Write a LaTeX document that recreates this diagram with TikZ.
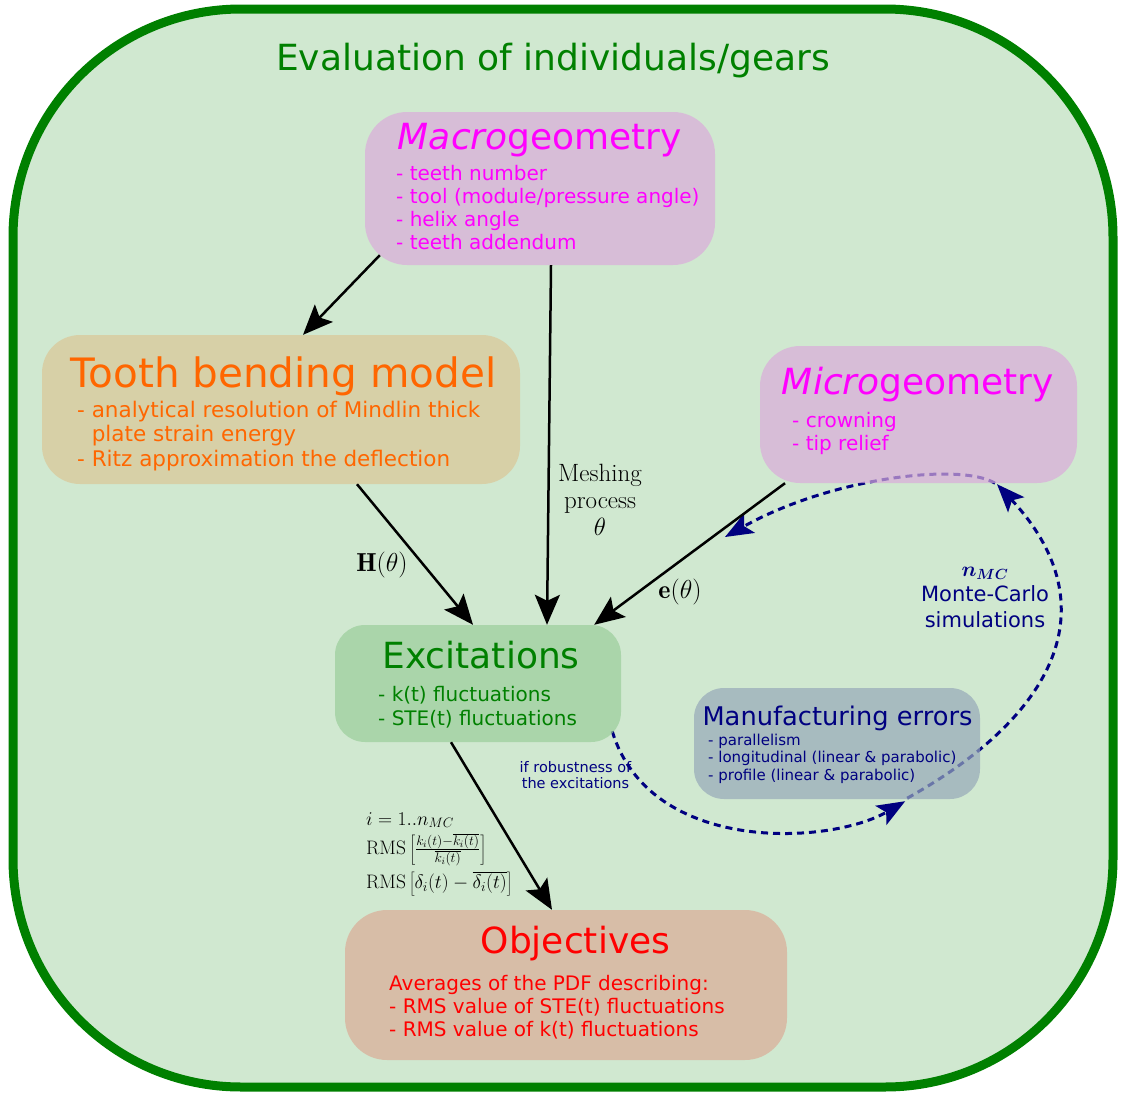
\documentclass[tikz,border=0pt]{standalone}
\usepackage{fix-cm}
\usepackage{fontspec}
\usepackage{bm}
\usetikzlibrary{arrows.meta}
\newfontfamily\dejavu{DejaVu Sans}[ItalicFont={DejaVu Sans Oblique}]
\newcommand{\boxlines}[2][l]{\begin{tabular}[t]{@{}#1@{}}#2\end{tabular}}

\definecolor{framegreen}{RGB}{0,128,0}
\definecolor{bggreen}{RGB}{208,232,208}
\definecolor{macrofill}{RGB}{219,172,219}
\definecolor{toothfill}{RGB}{219,198,151}
\definecolor{excitfill}{RGB}{154,206,154}
\definecolor{manuffill}{RGB}{151,169,185}
\definecolor{objecfill}{RGB}{219,172,151}
\definecolor{navyblue}{RGB}{0,0,128}
\definecolor{toothtext}{RGB}{255,102,0}
\definecolor{geomtext}{RGB}{255,0,255}
\definecolor{objectext}{RGB}{255,0,0}

\pgfdeclarelayer{frame}
\pgfdeclarelayer{under}
\pgfsetlayers{frame,under,main}

\tikzset{
	panel/.style={rectangle, inner sep=0pt, fill opacity=0.7},
	heading/.style={anchor=base, inner sep=0pt, font=\dejavu\fontsize{36}{40}\selectfont},
	items/.style={anchor=base west, inner sep=0pt, font=\dejavu\fontsize{20}{23.3}\selectfont},
	conn/.style={->, line width=2.5pt},
	mcloop/.style={->, navyblue, line width=3pt, dash pattern=on 7pt off 5pt,
		>={Stealth[length=28pt, width=22pt, inset=6pt]}},
}

\begin{document}
\begin{tikzpicture}[x=1pt, y=-1pt, >={Stealth[length=30pt, width=25pt, inset=6pt]}]
	\useasboundingbox (0,0) rectangle (1125,1095);

	\begin{pgfonlayer}{frame}
		\draw[line width=9pt, draw=framegreen, fill=bggreen, rounded corners=228pt] (13,9) rectangle (1113,1087);
	\end{pgfonlayer}
	\node[heading, text=framegreen] (title) at (553,70) {Evaluation of individuals/gears};

	% boxes
	\node[panel, fill=macrofill, minimum width=350pt, minimum height=153pt, rounded corners=42pt] (macro) at (540,188.5) {};
	\node[panel, fill=toothfill, minimum width=478pt, minimum height=149pt, rounded corners=38pt] (tooth) at (281,409.5) {};
	\node[panel, fill=macrofill, minimum width=317pt, minimum height=137pt, rounded corners=40pt] (micro) at (918.5,414.5) {};
	\node[panel, fill=excitfill, minimum width=286pt, minimum height=117pt, rounded corners=30pt] (excit) at (478,683.5) {};
	\node[panel, fill=manuffill, minimum width=286pt, minimum height=111pt, rounded corners=30pt] (manuf) at (837,743.5) {};
	\node[panel, fill=objecfill, minimum width=442pt, minimum height=150pt, rounded corners=42pt] (objec) at (566,985) {};

	% box texts
	\node[heading, text=geomtext] (macrotitle) at (540,149) {{\itshape Macro}geometry};
	\node[items, text=geomtext] (macroitems) at (396,180)
		{\boxlines{- teeth number\\ - tool (module/pressure angle)\\ - helix angle\\ - teeth addendum}};

	\node[heading, text=toothtext, font=\dejavu\fontsize{40.5}{44}\selectfont] (toothtitle) at (283.5,387) {Tooth bending model};
	\node[items, text=toothtext, font=\dejavu\fontsize{21.5}{24.7}\selectfont] (toothitems) at (77,417)
		{\boxlines{- analytical resolution of Mindlin thick\\ \phantom{- }plate strain energy\\ - Ritz approximation the deflection}};

	\node[heading, text=geomtext] (microtitle) at (918,394) {{\itshape Micro}geometry};
	\node[items, text=geomtext] (microitems) at (792,427) {\boxlines{- crowning\\ - tip relief}};

	\node[heading, text=framegreen] (excittitle) at (481,668) {Excitations};
	\node[items, text=framegreen] (excititems) at (378,701.7) {\boxlines{- k(t) fluctuations\\ - STE(t) fluctuations}};

	\node[heading, text=navyblue, font=\dejavu\fontsize{25.7}{30}\selectfont] (manuftitle) at (837.5,725) {Manufacturing errors};
	\node[items, text=navyblue, font=\dejavu\fontsize{15}{17.5}\selectfont] (manufitems) at (708,745)
		{\boxlines{- parallelism\\ - longitudinal (linear \& parabolic)\\ - profile (linear \& parabolic)}};

	\node[heading, text=objectext] (objectitle) at (575.5,953) {Objectives};
	\node[items, text=objectext] (objecitems) at (389,990)
		{\boxlines{Averages of the PDF describing:\\ - RMS value of STE(t) fluctuations\\ - RMS value of k(t) fluctuations}};

	% connectors
	\draw[conn] ([shift={(15,-10)}]macro.south west) -- ([xshift=22pt]tooth.north);
	\draw[conn] ([xshift=11pt]macro.south) -- ([xshift=69pt]excit.north);
	\draw[conn] ([xshift=76pt]tooth.south) -- ([xshift=-5pt]excit.north);
	\draw[conn] ([xshift=-133.5pt]micro.south) -- ([xshift=-27pt]excit.north east);
	\draw[conn] ([xshift=-27pt]excit.south) -- ([xshift=-14pt]objec.north);

	\node[font=\fontsize{25}{27}\selectfont, align=center] (meshing) at (600,500) {Meshing\\ process\\ $\theta$};
	\node[font=\fontsize{26}{30}\selectfont] (hlabel) at (382,565) {$\mathbf{H}(\theta)$};
	\node[font=\fontsize{26}{30}\selectfont] (elabel) at (680,592) {$\mathbf{e}(\theta)$};
	\node[anchor=base west, inner sep=0pt, font=\fontsize{19.5}{28}\selectfont] (rmslabel) at (366,825)
		{\boxlines{$i=1..n_{MC}$\\
			$\mathrm{RMS}\left[\frac{k_i(t)-\overline{k_i(t)}}{\overline{k_i(t)}}\right]$\\[6pt]
			$\mathrm{RMS}\left[\delta_i(t)-\overline{\delta_i(t)}\right]$}};

	% Monte-Carlo loop
	\node[anchor=base, inner sep=0pt, text=navyblue, font=\dejavu\fontsize{21}{25.5}\selectfont] (mclabel) at (985,576)
		{\boxlines[c]{$\bm{n_{MC}}$\\ Monte-Carlo\\ simulations}};
	\node[anchor=base, inner sep=0pt, text=navyblue, font=\dejavu\fontsize{14.5}{16.5}\selectfont] (robust) at (575.5,772)
		{\boxlines[c]{if robustness of\\ the excitations}};

	\coordinate (back) at (725,537);
	\begin{pgfonlayer}{under}
		\draw[mcloop] ([shift={(-9,-11)}]excit.south east) .. controls (650,855) and (830,845) .. ([shift={(-75,2)}]manuf.south east);
		\draw[mcloop] ([shift={(-73,-1)}]manuf.south east) .. controls (1065,710) and (1105,600) .. ([shift={(78.5,1)}]micro.south);
		\draw[mcloop] ([shift={(76.5,0)}]micro.south) .. controls (960,462) and (830,478) .. (back);
	\end{pgfonlayer}
\end{tikzpicture}
\end{document}
